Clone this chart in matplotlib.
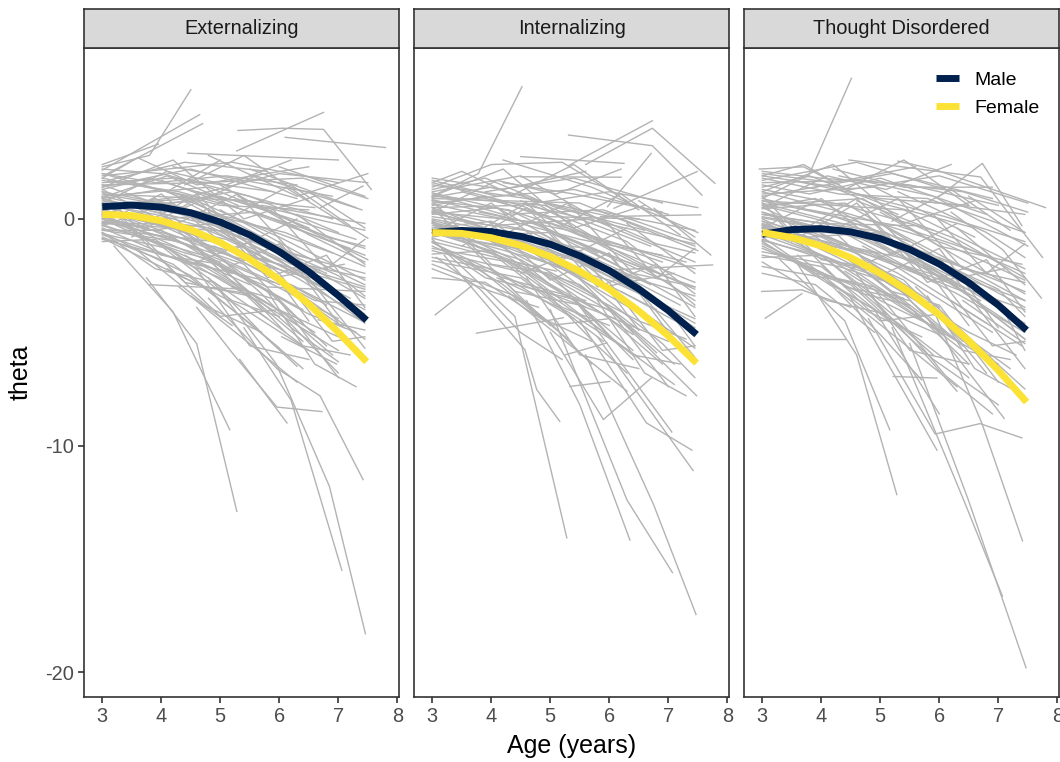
import matplotlib.pyplot as plt
from matplotlib.lines import Line2D

plt.rcParams['font.family'] = ['Liberation Sans', 'DejaVu Sans']

panel_titles = ['Externalizing', 'Internalizing', 'Thought Disordered']
x_ticks = [3, 4, 5, 6, 7, 8]
y_ticks = [0, -10, -20]
y_tick_labels = ['0', '-10', '-20']
sex_labels = ['Male', 'Female']
sex_colors = ['#00204D', '#FDE236']

# model-implied mean curves
curve_age = [3.0, 3.5, 4.0, 4.5, 5.0, 5.5, 6.0, 6.5, 7.0, 7.48]
ext_male = [0.54, 0.61, 0.52, 0.27, -0.14, -0.71, -1.44, -2.33, -3.38, -4.47]
ext_female = [0.20, 0.15, -0.08, -0.48, -1.04, -1.78, -2.68, -3.76, -5.00, -6.30]
int_male = [-0.60, -0.51, -0.56, -0.77, -1.12, -1.63, -2.28, -3.09, -4.04, -5.10]
int_female = [-0.60, -0.64, -0.83, -1.17, -1.66, -2.31, -3.10, -4.06, -5.16, -6.36]
td_male = [-0.68, -0.47, -0.43, -0.57, -0.87, -1.35, -1.99, -2.81, -3.80, -4.91]
td_female = [-0.60, -0.82, -1.19, -1.71, -2.40, -3.23, -4.23, -5.38, -6.68, -8.08]

# individual trajectories (age, theta), approximate
ext_people = [
    [(3.0, 2.3), (3.8, 2.8), (4.5, 5.7)],
    [(3.0, 2.15), (4.65, 4.6)],
    [(3.05, 1.95), (4.7, 4.2)],
    [(3.0, 2.4), (3.95, 3.3)],
    [(4.45, 2.9), (7.0, 2.6)],
    [(5.3, 3.9), (6.05, 4.0), (6.75, 3.95), (7.56, 1.3)],
    [(5.28, 3.0), (6.75, 4.7)],
    [(6.1, 3.6), (7.8, 3.15)],
    [(3.0, 1.6), (4.2, 1.8), (5.9, 1.2)],
    [(3.0, 1.4), (4.5, 2.2), (6.3, 0.9)],
    [(3.0, 1.2), (4.4, 0.5), (5.6, 1.9), (7.4, 0.4)],
    [(3.0, 1.0), (4.8, 1.4), (6.5, -0.4)],
    [(3.0, 0.9), (4.0, 1.3), (5.0, 0.2), (6.2, -1.5)],
    [(3.0, 0.7), (4.3, -0.2), (5.8, -2.1)],
    [(3.0, 0.5), (4.6, 0.8), (6.0, -0.8), (7.45, -2.7)],
    [(3.0, 0.4), (4.1, -0.4), (5.3, -1.8)],
    [(3.0, 0.3), (5.1, -0.9), (6.9, -3.2)],
    [(3.0, 0.2), (3.9, 0.9), (5.4, -1.1)],
    [(3.0, 0.0), (4.5, -1.2), (6.1, -3.6)],
    [(3.0, -0.1), (4.2, -0.9), (5.6, -2.5), (7.0, -4.4)],
    [(3.0, -0.3), (4.7, -1.6), (6.4, -4.0)],
    [(3.0, -0.5), (4.0, -0.5), (5.2, -2.4)],
    [(3.0, -0.7), (4.4, -1.9), (5.9, -2.8)],
    [(3.0, -0.9), (4.8, -2.1), (6.6, -5.0)],
    [(3.0, -1.0), (3.9, -0.9), (5.0, -3.0)],
    [(3.75, -2.6), (4.6, -5.5), (5.28, -12.9)],
    [(3.2, -1.2), (4.2, -4.1), (5.16, -9.3)],
    [(3.8, -2.9), (5.4, -3.1)],
    [(4.6, -3.9), (5.2, -5.9), (5.96, -8.3), (6.72, -8.5)],
    [(5.33, -6.2), (6.13, -9.0)],
    [(4.8, -3.5), (5.96, -6.6), (6.69, -7.8), (7.42, -11.5)],
    [(5.0, -3.2), (5.95, -6.4), (6.85, -11.8), (7.46, -18.3)],
    [(5.4, -4.8), (6.2, -8.0), (7.06, -15.5)],
    [(4.5, -3.4), (5.2, -4.7)],
    [(6.7, 0.5), (7.42, 1.45)],
    [(6.1, 1.4), (7.5, -0.85)],
    [(6.66, -4.45), (7.45, -4.9)],
    [(6.04, -5.2), (6.97, -6.4)],
    [(3.0, 1.8), (3.6, 2.7), (4.6, 1.5), (6.5, 2.3)],
    [(3.0, 1.9), (5.2, 2.5), (7.0, 1.6)],
    [(3.05, 1.1), (5.5, 0.8), (7.5, -1.8)],
    [(3.0, 0.6), (5.0, 1.0), (7.3, -0.9)],
    [(3.0, -0.2), (5.5, -0.6), (7.45, -3.5)],
    [(3.0, 0.1), (6.0, -2.0), (7.45, -4.0)],
    [(3.0, -0.4), (5.0, -2.6), (7.0, -5.8)],
    [(3.1, 0.8), (4.9, -0.3), (6.8, -2.4)],
    [(3.0, 1.3), (4.6, -0.9), (6.3, -3.1)],
    [(3.0, -0.6), (4.5, -2.5), (6.0, -5.7)],
    [(3.0, 0.9), (4.2, 0.1), (5.7, -3.3), (7.0, -6.8)],
    [(4.0, 1.7), (5.5, 0.3), (7.2, -1.3)],
    [(4.3, 0.9), (6.0, -1.4), (7.45, -2.4)],
    [(5.0, 1.5), (6.5, -0.7), (7.45, -1.9)],
    [(5.5, 2.2), (7.3, 0.5)],
    [(4.8, 2.8), (6.3, 1.0), (7.5, 2.0)],
    [(3.0, -0.8), (4.2, -2.0), (5.5, -4.6), (6.4, -6.6)],
    [(3.0, 0.4), (4.6, -1.3), (5.7, -4.0)],
    [(3.0, 1.5), (4.0, 0.6), (5.2, 1.2), (6.9, 0.0)],
    [(3.1, 1.7), (4.4, 2.5), (5.8, 2.1)],
    [(3.0, 0.2), (5.8, -3.0), (7.45, -3.2)],
    [(6.0, -1.0), (7.45, -5.7)],
    [(5.6, -2.1), (7.1, -4.8)],
    [(4.9, -1.2), (6.6, -3.6), (7.45, -3.8)],
    [(3.0, 2.0), (4.1, 1.2), (5.0, 2.6)],
    [(3.0, -0.3), (3.9, 0.5), (4.9, -1.6), (6.0, -2.9)],
    [(4.5, -1.0), (6.2, -4.8), (7.0, -6.3)],
    [(3.0, 2.2), (4.0, 2.0), (5.5, 1.0), (7.0, -0.6)],
    [(3.0, 1.7), (4.3, 1.2), (5.8, 0.1), (7.45, -1.3)],
    [(3.0, 1.5), (4.7, 1.6), (6.4, 1.8), (7.5, 0.9)],
    [(3.0, 1.3), (3.8, 1.8), (5.0, 0.9), (6.6, 0.5)],
    [(3.0, 1.1), (4.5, 0.4), (6.1, -0.6), (7.45, -2.1)],
    [(3.0, 0.95), (4.1, 1.9), (5.3, 0.6)],
    [(3.0, 0.8), (4.6, 0.1), (6.2, -2.0), (7.45, -3.0)],
    [(3.0, 0.65), (3.9, 0.2), (5.1, -0.6), (6.7, -1.9)],
    [(3.0, 0.55), (4.4, 1.0), (5.9, -1.2)],
    [(3.0, 0.45), (5.0, -1.5), (6.5, -2.6)],
    [(3.0, 0.35), (4.0, 0.0), (5.6, 0.3), (7.45, -1.6)],
    [(3.0, 0.25), (4.8, -0.4), (6.7, -3.0)],
    [(3.0, 0.15), (4.2, -1.4), (5.5, -2.9)],
    [(3.0, 0.05), (3.8, -0.5), (4.9, -0.2), (6.3, -2.3)],
    [(3.0, -0.15), (4.6, -0.3), (6.0, -1.8), (7.45, -4.6)],
    [(3.0, -0.25), (4.4, -1.5), (5.0, -1.9)],
    [(3.0, -0.45), (4.9, -1.0), (6.8, -3.8)],
    [(3.0, -0.65), (4.1, -1.3), (5.6, -3.6)],
    [(3.0, -0.85), (4.7, -3.0), (5.5, -3.3)],
    [(3.0, 1.0), (4.2, 0.3), (5.4, -0.6), (6.6, -2.6), (7.45, -4.2)],
    [(3.5, 1.6), (5.0, 0.6), (6.5, 0.4)],
    [(3.8, 0.7), (5.3, 0.0), (6.9, -1.5)],
    [(4.0, -0.2), (5.6, -1.7), (7.45, -3.1)],
    [(4.2, 2.3), (5.4, 1.7), (6.9, 1.0)],
    [(4.4, -1.6), (5.9, -3.9), (7.0, -5.2)],
    [(4.6, 1.2), (6.1, 0.3), (7.45, -0.5)],
    [(4.7, -0.6), (6.3, -2.6), (7.45, -4.4)],
    [(5.0, 0.4), (6.4, -1.6), (7.45, -2.9)],
    [(5.1, -2.2), (6.5, -4.2), (7.3, -5.0)],
    [(5.3, 1.0), (6.8, -0.8), (7.45, -1.2)],
    [(5.5, -0.8), (7.0, -2.5), (7.45, -3.4)],
    [(5.7, 0.6), (7.45, -0.2)],
    [(5.8, -1.6), (7.2, -3.5)],
    [(6.0, 2.3), (7.45, 1.0)],
    [(6.2, -2.9), (7.4, -4.5)],
    [(6.3, 0.2), (7.45, -2.0)],
    [(3.0, 1.8), (4.5, 1.0), (6.0, 2.0), (7.5, 1.6)],
    [(3.0, 2.0), (3.9, 1.6), (5.1, 1.9), (6.3, 1.5)],
    [(3.0, -0.5), (4.3, -1.0), (5.4, -2.0), (6.4, -4.6)],
    [(3.0, 0.0), (4.0, -1.2), (5.2, -3.6), (6.0, -4.3)],
    [(3.0, 0.6), (4.4, -0.6), (5.9, -3.4), (6.8, -5.6)],
    [(4.1, -2.2), (5.3, -3.8), (6.5, -5.8)],
    [(4.8, -2.6), (5.8, -5.3), (6.3, -6.5)],
    [(3.0, 1.2), (3.6, -0.4), (4.6, 1.1), (5.8, -1.9)],
    [(3.0, -0.2), (4.0, 1.1), (5.2, -1.4), (6.3, 0.0)],
    [(3.5, -0.8), (4.6, 0.9), (5.9, -2.6), (7.1, -2.0)],
    [(4.0, 0.2), (5.0, -2.3), (6.0, -1.1), (7.0, -4.6)],
    [(4.2, -0.3), (5.3, 1.1), (6.4, -2.0), (7.45, -2.6)],
    [(4.5, -2.0), (5.5, -1.0), (6.5, -4.5)],
    [(4.8, 0.3), (5.8, -2.6), (6.8, -1.6), (7.45, -3.9)],
    [(3.0, 0.9), (4.0, -1.6), (5.0, -2.0), (6.1, -5.0)],
    [(3.2, 0.3), (4.4, -2.8), (5.5, -3.4), (6.4, -5.4)],
    [(4.0, -1.8), (5.0, -4.3), (6.0, -4.0), (6.9, -6.0)],
    [(4.6, -2.2), (5.5, -5.6), (6.5, -6.2)],
    [(5.2, -3.0), (6.0, -3.6), (7.0, -7.0)],
    [(5.6, -4.0), (6.4, -5.6), (7.2, -6.0)],
    [(5.0, -0.5), (6.0, -2.4), (6.9, -5.4), (7.45, -5.2)],
    [(3.0, 1.4), (4.2, 2.6), (5.4, 0.0), (6.6, 1.0)],
    [(3.0, 0.7), (4.1, 2.1), (5.1, 1.5), (6.2, 2.6)],
    [(4.4, 1.5), (5.4, 2.8), (6.5, 0.8)],
    [(5.2, 0.1), (6.2, 1.5), (7.2, -0.3)],
    [(5.9, 0.4), (6.8, -2.2), (7.45, -0.9)],
    [(3.0, -0.6), (3.9, -2.2), (4.9, -2.8), (5.8, -4.4)],
    [(3.6, -1.4), (4.8, -3.9), (5.7, -5.0)],
    [(4.3, -3.0), (5.4, -5.3), (6.3, -7.2)],
    [(5.8, -3.2), (6.6, -6.4), (7.3, -7.4)],
    [(6.4, -3.4), (7.45, -5.3)],
    [(6.5, 1.2), (7.45, -0.4)],
]

int_people = [
    [(3.0, 1.0), (3.78, 2.0), (4.52, 5.83)],
    [(5.31, 3.7), (6.73, 3.23), (7.57, 1.05)],
    [(5.31, 2.35), (6.73, 4.33)],
    [(5.6, 2.4), (6.73, 4.0), (7.79, 1.57)],
    [(5.97, 0.54), (6.71, 2.89)],
    [(6.08, 0.47), (7.49, 2.09)],
    [(6.76, 0.47), (7.72, -1.59)],
    [(5.85, 0.1), (7.55, 0.18)],
    [(5.97, -2.26), (7.75, -2.03)],
    [(3.05, -4.23), (3.67, -2.95)],
    [(3.75, -5.04), (5.22, -4.36)],
    [(3.2, -1.6), (4.57, -5.77), (4.77, -7.53), (5.16, -8.93)],
    [(3.0, -0.9), (4.4, -4.3), (5.28, -14.07)],
    [(4.6, -3.6), (5.5, -8.2), (6.35, -14.17)],
    [(5.0, -4.0), (6.3, -12.4), (7.07, -15.6)],
    [(5.6, -6.0), (6.75, -12.6), (7.47, -17.45)],
    [(5.5, -4.5), (6.63, -9.0), (7.4, -10.2)],
    [(5.8, -5.2), (7.42, -11.1)],
    [(5.0, -5.0), (5.9, -8.85), (6.72, -7.0)],
    [(5.25, -6.0), (5.96, -5.47)],
    [(5.33, -7.39), (6.01, -7.17)],
    [(6.2, -4.5), (7.48, -7.8)],
    [(5.4, -3.5), (7.06, -9.4)],
    [(3.07, -1.7), (3.81, -3.1), (4.49, -5.0), (5.2, -6.2)],
    [(3.0, 1.8), (4.2, 1.3), (5.6, 2.1)],
    [(3.0, 1.6), (3.5, 2.1), (4.4, 1.0)],
    [(3.0, 1.4), (4.0, 2.4), (5.2, 2.5), (6.3, 0.8)],
    [(3.0, 1.2), (4.5, 1.9), (6.0, -0.3)],
    [(3.0, 1.0), (4.9, 0.6), (6.7, -1.2)],
    [(3.0, 0.8), (4.3, 0.4), (5.8, -1.5)],
    [(3.0, 0.6), (3.9, 1.0), (5.3, -0.3), (7.0, -2.6)],
    [(3.0, 0.4), (4.6, -0.5), (6.2, -2.4)],
    [(3.0, 0.2), (4.1, 0.5), (5.5, -1.6)],
    [(3.0, 0.0), (4.8, -0.9), (6.5, -3.2)],
    [(3.0, -0.2), (4.4, -1.3), (5.9, -3.0)],
    [(3.0, -0.4), (4.0, -0.1), (5.2, -2.2), (6.8, -4.6)],
    [(3.0, -0.6), (4.5, -1.8), (6.1, -4.2)],
    [(3.0, -0.8), (3.8, -0.4), (5.0, -2.9)],
    [(3.0, -1.0), (4.7, -2.1), (6.4, -5.1)],
    [(3.0, -1.2), (4.2, -2.6), (5.6, -3.6)],
    [(3.0, -1.4), (4.6, -2.4), (5.8, -4.8), (7.1, -7.3)],
    [(3.0, -1.7), (4.0, -2.2), (5.4, -4.4)],
    [(3.0, -2.0), (4.4, -3.4), (5.3, -5.3)],
    [(3.0, -2.6), (3.9, -2.8), (4.9, -4.5)],
    [(3.0, 0.9), (5.5, 0.7), (7.5, -1.4)],
    [(3.0, 0.3), (5.0, -0.2), (7.45, -2.8)],
    [(3.05, -0.3), (5.6, -1.3), (7.45, -3.9)],
    [(3.0, -0.5), (6.0, -2.7), (7.45, -4.4)],
    [(3.0, 1.1), (4.2, 0.2), (5.9, 0.4), (7.45, -1.0)],
    [(4.2, 2.6), (5.7, 1.4), (7.5, -0.6)],
    [(4.5, 0.8), (6.3, -1.0), (7.45, -3.3)],
    [(5.0, -0.6), (6.6, -2.2), (7.45, -3.6)],
    [(5.2, -1.4), (7.0, -4.0), (7.45, -5.6)],
    [(4.0, -1.0), (5.7, -3.3), (7.1, -6.4)],
    [(3.0, -0.1), (4.3, -1.7), (5.4, -3.6), (6.4, -6.2)],
    [(3.9, 1.2), (5.4, 1.8), (6.9, 0.7)],
    [(3.0, 0.7), (4.5, 1.1), (5.8, -0.9), (7.3, -1.9)],
    [(6.0, -1.6), (7.45, -6.1)],
    [(5.5, -2.6), (6.9, -5.5), (7.45, -7.0)],
    [(4.5, 2.75), (6.25, 2.45)],
    [(4.5, 1.86), (6.2, 1.84)],
    [(3.0, 1.7), (4.1, 1.0), (5.4, 1.3), (7.0, 0.2)],
    [(3.0, 1.5), (4.6, 0.9), (6.2, 0.0), (7.45, -1.2)],
    [(3.0, 1.3), (3.9, 1.8), (5.1, 0.5), (6.6, -0.5)],
    [(3.0, 1.15), (4.4, 0.3), (5.9, -0.9), (7.45, -2.2)],
    [(3.0, 0.95), (4.0, 1.4), (5.6, 0.2)],
    [(3.0, 0.85), (4.7, -0.2), (6.3, -1.9), (7.45, -3.0)],
    [(3.0, 0.65), (4.2, 0.0), (5.5, -0.9), (6.9, -1.6)],
    [(3.0, 0.5), (4.5, 0.6), (6.0, -1.1)],
    [(3.0, 0.35), (5.0, -1.4), (6.6, -2.7)],
    [(3.0, 0.25), (4.0, -0.3), (5.7, 0.0), (7.45, -1.9)],
    [(3.0, 0.1), (4.8, -0.6), (6.7, -2.9)],
    [(3.0, -0.05), (4.3, -1.0), (5.6, -2.6)],
    [(3.0, -0.15), (3.9, -0.7), (5.0, -0.6), (6.4, -2.4)],
    [(3.0, -0.3), (4.6, -0.8), (6.0, -2.2), (7.45, -4.8)],
    [(3.0, -0.45), (4.4, -1.9), (5.1, -2.3)],
    [(3.0, -0.65), (4.9, -1.5), (6.8, -4.0)],
    [(3.0, -0.85), (4.1, -1.6), (5.6, -3.9)],
    [(3.0, -1.05), (4.7, -3.1), (5.5, -3.6)],
    [(3.0, -1.3), (4.3, -1.9), (5.5, -2.9), (6.5, -4.9)],
    [(3.0, -1.55), (4.0, -1.4), (5.0, -3.3), (6.1, -4.4)],
    [(3.0, -1.85), (4.5, -2.6), (5.9, -5.4)],
    [(3.0, -2.2), (4.0, -3.2), (4.8, -3.9)],
    [(3.5, 1.2), (5.0, 0.1), (6.5, 0.0)],
    [(3.8, 0.3), (5.3, -0.5), (6.9, -1.9)],
    [(4.0, -0.6), (5.6, -2.0), (7.45, -3.4)],
    [(4.2, 1.6), (5.4, 1.1), (6.9, 0.3)],
    [(4.4, -2.0), (5.9, -4.2), (7.0, -5.4)],
    [(4.6, 0.6), (6.1, -0.3), (7.45, -1.1)],
    [(4.7, -1.0), (6.3, -2.9), (7.45, -4.6)],
    [(5.0, 0.0), (6.4, -1.9), (7.45, -3.1)],
    [(5.1, -2.6), (6.5, -4.5), (7.3, -5.3)],
    [(5.3, 0.6), (6.8, -1.1), (7.45, -1.5)],
    [(5.5, -1.1), (7.0, -2.8), (7.45, -3.8)],
    [(5.7, 0.4), (7.45, -0.5)],
    [(5.8, -1.9), (7.2, -3.8)],
    [(6.2, -3.2), (7.4, -4.9)],
    [(6.3, -0.2), (7.45, -2.4)],
    [(3.0, 1.6), (4.5, 0.6), (6.0, 1.2), (7.5, 0.5)],
    [(3.0, -0.6), (4.3, -1.3), (5.4, -2.4), (6.4, -5.0)],
    [(3.0, -0.2), (4.0, -1.5), (5.2, -3.9), (6.0, -4.7)],
    [(3.0, 0.5), (4.4, -0.9), (5.9, -3.7), (6.8, -5.9)],
    [(4.1, -2.6), (5.3, -4.1), (6.5, -6.1)],
    [(4.8, -2.9), (5.8, -5.6), (6.3, -6.8)],
    [(3.0, -1.0), (4.2, -2.9), (5.0, -4.6), (5.7, -6.4)],
    [(3.0, 0.8), (3.6, -0.8), (4.6, 0.7), (5.8, -2.3)],
    [(3.0, -0.6), (4.0, 0.7), (5.2, -1.8), (6.3, -0.4)],
    [(3.5, -1.2), (4.6, 0.5), (5.9, -3.0), (7.1, -2.4)],
    [(4.0, -0.2), (5.0, -2.7), (6.0, -1.5), (7.0, -5.0)],
    [(4.2, -0.7), (5.3, 0.7), (6.4, -2.4), (7.45, -3.0)],
    [(4.5, -2.4), (5.5, -1.4), (6.5, -4.9)],
    [(4.8, -0.1), (5.8, -3.0), (6.8, -2.0), (7.45, -4.3)],
    [(3.0, 0.5), (4.0, -2.0), (5.0, -2.4), (6.1, -5.4)],
    [(3.2, -0.1), (4.4, -3.2), (5.5, -3.8), (6.4, -5.8)],
    [(4.0, -2.2), (5.0, -4.7), (6.0, -4.4), (6.9, -6.4)],
    [(4.6, -2.6), (5.5, -6.0), (6.5, -6.6)],
    [(5.2, -3.4), (6.0, -4.0), (7.0, -7.4)],
    [(5.6, -4.4), (6.4, -6.0), (7.2, -6.4)],
    [(5.0, -0.9), (6.0, -2.8), (6.9, -5.8), (7.45, -5.6)],
    [(3.0, 1.0), (4.2, 2.2), (5.4, -0.4), (6.6, 0.6)],
    [(3.0, 0.3), (4.1, 1.7), (5.1, 1.1), (6.2, 2.2)],
    [(4.4, 1.1), (5.4, 2.4), (6.5, 0.4)],
    [(5.2, -0.3), (6.2, 1.1), (7.2, -0.7)],
    [(5.9, 0.0), (6.8, -2.6), (7.45, -1.3)],
    [(3.0, -1.0), (3.9, -2.6), (4.9, -3.2), (5.8, -4.8)],
    [(3.6, -1.8), (4.8, -4.3), (5.7, -5.4)],
    [(4.3, -3.4), (5.4, -5.7), (6.3, -7.6)],
    [(5.8, -3.6), (6.6, -6.8), (7.3, -7.8)],
    [(6.4, -3.8), (7.45, -5.7)],
    [(6.5, 0.8), (7.45, -0.8)],
]

td_people = [
    [(3.0, 0.9), (3.79, 1.94), (4.51, 6.2)],
    [(2.95, 2.2), (3.7, 2.3), (4.3, 1.5)],
    [(4.47, 2.6), (6.7, 1.85), (7.75, -1.7)],
    [(5.3, 2.55), (5.9, 2.2), (7.8, 0.5)],
    [(6.0, 1.0), (6.73, 2.45), (7.4, -0.3)],
    [(2.99, -3.2), (3.67, -3.13), (4.5, -3.9)],
    [(3.05, -4.38), (3.67, -3.3)],
    [(3.75, -5.3), (4.4, -5.3)],
    [(5.22, -6.95), (5.96, -7.02)],
    [(3.3, -1.8), (4.4, -4.5), (5.16, -9.3)],
    [(3.6, -2.0), (4.6, -6.0), (5.28, -12.16)],
    [(4.5, -3.5), (5.96, -10.2)],
    [(4.8, -4.4), (5.93, -9.49), (6.69, -9.03), (7.4, -9.66)],
    [(5.9, -4.0), (6.72, -9.0), (7.41, -14.2)],
    [(5.2, -4.8), (6.41, -12.38), (7.07, -16.64)],
    [(5.5, -5.5), (6.49, -12.38), (7.47, -19.8)],
    [(6.2, 0.3), (7.08, -1.37), (7.73, -3.49)],
    [(3.0, 2.0), (4.2, 1.6), (5.6, 2.3)],
    [(3.0, 1.7), (4.6, 2.5), (6.1, 1.3)],
    [(3.0, 1.5), (3.8, 1.1), (5.0, 1.8), (6.8, 0.2)],
    [(3.0, 1.3), (4.4, 0.6), (5.9, -0.5)],
    [(3.0, 1.1), (4.9, 1.4), (6.6, -0.8)],
    [(3.0, 0.9), (4.1, 0.2), (5.5, -1.0)],
    [(3.0, 0.7), (4.5, -0.3), (6.2, -1.9), (7.45, -3.2)],
    [(3.0, 0.5), (3.9, 0.9), (5.2, -0.9)],
    [(3.0, 0.3), (4.7, -0.9), (6.4, -3.0)],
    [(3.0, 0.1), (4.3, -0.5), (5.8, -2.6)],
    [(3.0, -0.1), (4.0, -0.8), (5.3, -2.4), (6.9, -5.0)],
    [(3.0, -0.3), (4.6, -1.5), (6.0, -3.9)],
    [(3.0, -0.5), (3.8, -0.6), (5.0, -2.8)],
    [(3.0, -0.7), (4.4, -2.0), (5.7, -4.3)],
    [(3.0, -0.9), (4.8, -2.4), (6.3, -5.4)],
    [(3.0, -1.1), (4.2, -2.6), (5.4, -3.5)],
    [(3.0, -1.3), (4.5, -2.9), (5.9, -6.2), (7.0, -8.2)],
    [(3.0, -1.6), (4.0, -2.1), (5.2, -4.6)],
    [(3.0, -1.9), (4.1, -3.6), (5.1, -4.2)],
    [(3.0, -2.4), (3.9, -2.9), (4.9, -5.0)],
    [(3.0, 0.8), (5.4, 0.4), (7.45, -2.2)],
    [(3.0, 0.2), (5.1, -0.6), (7.45, -3.9)],
    [(3.0, -0.4), (5.7, -1.9), (7.45, -4.6)],
    [(3.0, -0.2), (6.1, -2.6), (7.45, -5.3)],
    [(4.3, 1.9), (5.9, 1.0), (7.5, -1.2)],
    [(4.6, 0.8), (6.3, -0.9), (7.45, -2.6)],
    [(5.0, -0.2), (6.6, -2.4), (7.45, -3.6)],
    [(5.2, -1.2), (7.0, -3.6), (7.45, -5.8)],
    [(4.1, -1.1), (5.6, -3.6), (7.2, -6.6)],
    [(3.0, 0.0), (4.4, -1.6), (5.5, -3.9), (6.5, -6.4)],
    [(3.9, 1.4), (5.2, 2.0), (6.9, 0.9)],
    [(3.0, 0.6), (4.7, 0.9), (6.0, -1.2), (7.4, -2.0)],
    [(6.0, -1.7), (7.45, -6.6)],
    [(5.6, -3.0), (6.9, -6.2), (7.45, -7.5)],
    [(5.8, -4.4), (7.1, -8.8)],
    [(4.9, -3.1), (6.1, -6.9), (6.9, -8.6)],
    [(3.0, 1.9), (3.7, 2.4), (4.5, 1.2)],
    [(3.0, -1.0), (4.9, -4.0), (6.0, -8.6)],
    [(3.0, 2.1), (4.0, 1.8), (5.5, 1.5), (7.0, 0.6)],
    [(3.0, 1.8), (4.3, 1.1), (5.8, 0.9), (7.45, -0.6)],
    [(3.0, 1.6), (4.7, 1.7), (6.4, 1.2), (7.5, 0.3)],
    [(3.0, 1.4), (3.8, 1.9), (5.0, 0.7), (6.6, -0.4)],
    [(3.0, 1.2), (4.5, 0.2), (6.1, -1.1), (7.45, -2.7)],
    [(3.0, 1.0), (4.1, 1.5), (5.3, 0.2)],
    [(3.0, 0.8), (4.6, -0.1), (6.2, -2.4), (7.45, -3.6)],
    [(3.0, 0.6), (3.9, 0.0), (5.1, -1.0), (6.7, -2.4)],
    [(3.0, 0.45), (4.4, 0.7), (5.9, -1.6)],
    [(3.0, 0.3), (5.0, -1.8), (6.5, -3.3)],
    [(3.0, 0.2), (4.0, -0.2), (5.6, -0.3), (7.45, -2.4)],
    [(3.0, 0.05), (4.8, -0.8), (6.7, -3.6)],
    [(3.0, -0.1), (4.2, -1.6), (5.5, -3.3)],
    [(3.0, -0.25), (3.8, -0.8), (4.9, -0.6), (6.3, -2.9)],
    [(3.0, -0.4), (4.6, -0.7), (6.0, -2.4), (7.45, -5.3)],
    [(3.0, -0.55), (4.4, -2.0), (5.0, -2.4)],
    [(3.0, -0.75), (4.9, -1.5), (6.8, -4.6)],
    [(3.0, -0.95), (4.1, -1.7), (5.6, -4.1)],
    [(3.0, -1.2), (4.7, -3.3), (5.5, -3.8)],
    [(3.0, -1.45), (4.3, -2.1), (5.5, -3.1), (6.5, -5.6)],
    [(3.0, -1.7), (4.0, -1.6), (5.0, -3.6), (6.1, -5.0)],
    [(3.0, -2.1), (4.5, -2.8), (5.9, -6.0)],
    [(3.5, 1.7), (5.0, 0.9), (6.5, 0.6)],
    [(3.8, 0.4), (5.3, -0.3), (6.9, -1.7)],
    [(4.0, -0.7), (5.6, -2.3), (7.45, -4.0)],
    [(4.2, 2.2), (5.4, 1.4), (6.9, 1.4)],
    [(4.4, -2.3), (5.9, -4.8), (7.0, -6.4)],
    [(4.6, 1.1), (6.1, 0.1), (7.45, -1.0)],
    [(4.7, -1.2), (6.3, -3.3), (7.45, -5.0)],
    [(5.0, 0.3), (6.4, -1.8), (7.45, -3.3)],
    [(5.1, -2.8), (6.5, -5.0), (7.3, -6.0)],
    [(5.3, 1.2), (6.8, -0.6), (7.45, -1.7)],
    [(5.5, -1.3), (7.0, -3.1), (7.45, -4.3)],
    [(5.7, 0.8), (7.45, 0.2)],
    [(5.8, -2.2), (7.2, -4.6)],
    [(6.2, -3.6), (7.4, -5.6)],
    [(6.3, -0.4), (7.45, -2.9)],
    [(3.0, 1.9), (4.5, 1.3), (6.0, 1.9), (7.5, 0.7)],
    [(3.0, -0.6), (4.3, -1.4), (5.4, -2.7), (6.4, -5.4)],
    [(3.0, -0.3), (4.0, -1.6), (5.2, -4.2), (6.0, -5.1)],
    [(3.0, 0.5), (4.4, -1.1), (5.9, -4.0), (6.8, -6.8)],
    [(4.1, -2.8), (5.3, -4.6), (6.5, -7.0)],
    [(4.8, -3.3), (5.8, -6.1), (6.3, -7.6)],
    [(3.0, -1.0), (4.2, -3.0), (5.0, -5.1), (5.7, -7.1)],
    [(3.0, 1.0), (3.6, -0.6), (4.6, 0.9), (5.8, -2.1)],
    [(3.0, -0.4), (4.0, 0.9), (5.2, -1.6), (6.3, -0.2)],
    [(3.5, -1.0), (4.6, 0.7), (5.9, -2.8), (7.1, -2.2)],
    [(4.0, 0.0), (5.0, -2.5), (6.0, -1.3), (7.0, -4.8)],
    [(4.2, -0.5), (5.3, 0.9), (6.4, -2.2), (7.45, -2.8)],
    [(4.5, -2.2), (5.5, -1.2), (6.5, -4.7)],
    [(4.8, 0.1), (5.8, -2.8), (6.8, -1.8), (7.45, -4.1)],
    [(3.0, 0.7), (4.0, -1.8), (5.0, -2.2), (6.1, -5.2)],
    [(3.2, 0.1), (4.4, -3.0), (5.5, -3.6), (6.4, -5.6)],
    [(4.0, -2.0), (5.0, -4.5), (6.0, -4.2), (6.9, -6.2)],
    [(4.6, -2.4), (5.5, -5.8), (6.5, -6.4)],
    [(5.2, -3.2), (6.0, -3.8), (7.0, -7.2)],
    [(5.6, -4.2), (6.4, -5.8), (7.2, -6.2)],
    [(5.0, -0.7), (6.0, -2.6), (6.9, -5.6), (7.45, -5.4)],
    [(3.0, 1.2), (4.2, 2.4), (5.4, -0.2), (6.6, 0.8)],
    [(3.0, 0.5), (4.1, 1.9), (5.1, 1.3), (6.2, 2.4)],
    [(4.4, 1.3), (5.4, 2.6), (6.5, 0.6)],
    [(5.2, -0.1), (6.2, 1.3), (7.2, -0.5)],
    [(5.9, 0.2), (6.8, -2.4), (7.45, -1.1)],
    [(3.0, -0.8), (3.9, -2.4), (4.9, -3.0), (5.8, -4.6)],
    [(3.6, -1.6), (4.8, -4.1), (5.7, -5.2)],
    [(4.3, -3.2), (5.4, -5.5), (6.3, -7.4)],
    [(5.8, -3.4), (6.6, -6.6), (7.3, -7.6)],
    [(6.4, -3.6), (7.45, -5.5)],
    [(6.5, 1.0), (7.45, -0.6)],
]

people = [ext_people, int_people, td_people]
males = [ext_male, int_male, td_male]
females = [ext_female, int_female, td_female]

W, H = 1060, 762
fig = plt.figure(figsize=(W / 100, H / 100), dpi=100)

lefts = [84, 414, 744]
pw = 315.3
top, bottom = 48, 697
strip_h = 39

for i in range(3):
    ax = fig.add_axes([lefts[i] / W, 1 - bottom / H, pw / W, (bottom - top) / H])
    for traj in people[i]:
        a, t = zip(*traj)
        ax.plot(a, t, color='#B3B3B3', lw=1.0, zorder=1)
    ax.plot(curve_age, males[i], color=sex_colors[0], lw=5, solid_capstyle='butt', zorder=3)
    ax.plot(curve_age, females[i], color=sex_colors[1], lw=5, solid_capstyle='butt', zorder=4)
    ax.set_xlim(2.69, 8.034)
    ax.set_ylim(-21.09, 7.54)
    ax.set_xticks(x_ticks)
    ax.tick_params(axis='both', direction='out', length=4.5, width=1.2, color='#333333',
                   labelcolor='#4D4D4D', labelsize=14.4, pad=2.5)
    if i == 0:
        ax.set_yticks(y_ticks)
        ax.set_yticklabels(y_tick_labels)
    else:
        ax.set_yticks([])
    for s in ax.spines.values():
        s.set_color('#333333')
        s.set_linewidth(1.2)

    sax = fig.add_axes([lefts[i] / W, 1 - top / H, pw / W, strip_h / H])
    sax.set_facecolor('#D9D9D9')
    sax.set_xticks([])
    sax.set_yticks([])
    for s in sax.spines.values():
        s.set_color('#333333')
        s.set_linewidth(1.2)
    sax.text(0.5, 0.5, panel_titles[i], ha='center', va='center', fontsize=14.4,
             color='#1A1A1A', transform=sax.transAxes)

    if i == 2:
        handles = [Line2D([], [], color=c, lw=5, solid_capstyle='butt') for c in sex_colors]
        ax.legend(handles, sex_labels, loc='upper right', frameon=False, fontsize=14,
                  handlelength=1.2, handletextpad=0.8, labelspacing=0.55,
                  bbox_to_anchor=(1.013, 1.0), borderaxespad=0.8)

fig.text(21 / W, 1 - 372.5 / H, 'theta', rotation=90, ha='center', va='center', fontsize=18)
fig.text(571.5 / W, 1 - 746 / H, 'Age (years)', ha='center', va='center', fontsize=18)

fig.savefig('out.png', dpi=100)
